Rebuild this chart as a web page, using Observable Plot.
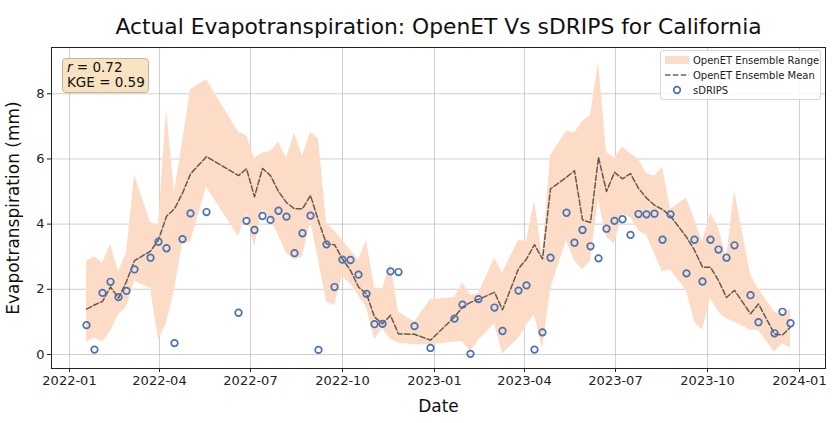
<!DOCTYPE html>
<html>
<head>
<meta charset="utf-8">
<script src="https://cdn.jsdelivr.net/npm/d3@7"></script>
<script src="https://cdn.jsdelivr.net/npm/@observablehq/plot@0.6"></script>
<style>
  html, body { margin: 0; padding: 0; background: #fff; }
  #wrap { position: relative; width: 833px; height: 423px; font-family: "DejaVu Sans", sans-serif; }
  #stats { position: absolute; left: 62px; top: 58px; width: 81px; height: 32px; background: #f7e3c2;
    border: 1px solid #c9b48f; border-radius: 4px; font-size: 13.5px; line-height: 15px; color: #111; padding: 1px 0 0 4px; box-sizing: content-box; }
  #legend { position: absolute; left: 660px; top: 50px; width: 159px; height: 48px; background: rgba(255,255,255,0.85);
    border: 1px solid #d6d6d6; border-radius: 3px; }
</style>
</head>
<body>
<div id="wrap"></div>
<script>
const dates = [
  "2022-01-18","2022-01-26","2022-02-03","2022-02-11","2022-02-19","2022-02-27","2022-03-07",
  "2022-03-23","2022-03-31","2022-04-08","2022-04-16","2022-04-24","2022-05-02","2022-05-18",
  "2022-06-19","2022-06-27","2022-07-05","2022-07-13","2022-07-21","2022-07-29","2022-08-06","2022-08-14","2022-08-22","2022-08-30","2022-09-07",
  "2022-09-15","2022-09-23","2022-10-01","2022-10-09","2022-10-17","2022-10-25","2022-11-02","2022-11-10","2022-11-18","2022-11-26",
  "2022-12-12","2022-12-28","2023-01-21","2023-01-29","2023-02-06","2023-02-14","2023-03-02","2023-03-10",
  "2023-03-26","2023-04-03","2023-04-11","2023-04-19","2023-04-27","2023-05-13","2023-05-21","2023-05-29","2023-06-06",
  "2023-06-14","2023-06-22","2023-06-30","2023-07-08","2023-07-16","2023-07-24","2023-08-01","2023-08-09","2023-08-17","2023-08-25",
  "2023-09-10","2023-09-18","2023-09-26","2023-10-04","2023-10-12","2023-10-20","2023-10-28","2023-11-13","2023-11-21","2023-12-07","2023-12-15","2023-12-23"
];
const sdrips = [
  0.90,0.15,1.89,2.23,1.76,1.95,2.61,
  2.97,3.46,3.26,0.35,3.54,4.33,4.37,
  1.28,4.10,3.82,4.25,4.13,4.41,4.23,3.11,3.72,4.26,0.14,
  3.38,2.07,2.91,2.90,2.45,1.86,0.93,0.94,2.55,2.53,
  0.87,0.20,1.10,1.53,0.02,1.70,1.44,0.72,
  1.96,2.12,0.15,0.68,2.97,4.35,3.43,3.82,3.32,
  2.95,3.86,4.10,4.15,3.67,4.31,4.30,4.32,3.52,4.30,
  2.49,3.52,2.24,3.52,3.22,2.97,3.35,1.82,0.99,0.65,1.31,0.96
];
const openetMean = [
  1.39,1.52,1.63,2.07,1.73,2.24,2.88,
  3.17,3.52,4.24,4.47,4.95,5.54,6.07,
  5.49,5.70,4.84,5.71,5.49,5.00,4.66,4.47,4.47,4.88,4.10,
  3.39,3.37,2.93,2.58,2.07,1.86,1.15,0.94,1.20,0.63,
  0.62,0.44,1.15,1.45,1.60,1.69,1.91,1.37,
  2.63,2.93,3.37,2.93,5.08,5.44,5.64,4.13,4.05,
  6.05,5.00,5.59,5.39,5.55,5.10,4.80,4.58,4.45,4.25,
  3.60,3.20,2.68,2.68,2.27,1.75,1.97,1.25,1.55,0.63,0.60,0.84
];
const openetMin = [
  0.38,0.50,0.38,0.72,1.22,1.45,2.25,
  2.02,0.45,0.95,2.00,3.40,3.45,5.13,
  3.62,4.30,3.30,4.45,4.15,3.65,3.10,2.90,3.00,4.10,2.90,
  1.60,1.50,2.40,2.17,1.80,1.45,0.45,0.80,0.45,0.35,
  0.30,0.30,0.38,0.40,0.10,0.43,0.94,0.02,
  0.50,0.90,1.22,0.15,2.00,3.50,2.88,2.60,2.88,
  4.75,3.60,3.40,4.30,4.20,3.80,3.65,3.09,2.53,2.60,
  1.95,1.00,0.74,1.70,1.30,1.10,1.00,0.74,0.74,0.07,0.33,0.20
];
const openetMax = [
  2.85,3.00,2.80,3.37,2.55,3.10,5.50,
  4.05,3.95,7.52,4.98,6.50,8.12,8.43,
  6.82,6.72,6.02,6.18,6.23,6.51,6.02,6.79,6.08,6.82,6.62,
  4.03,3.78,3.50,3.19,2.90,3.50,2.05,2.00,2.80,1.30,
  1.00,1.68,1.75,2.20,1.82,1.86,2.95,2.50,
  3.50,3.47,4.72,3.00,6.10,6.85,6.80,7.15,7.33,
  8.97,6.20,6.03,6.36,6.16,6.00,5.55,5.47,5.75,4.45,
  4.80,4.15,3.45,4.34,3.88,2.93,5.03,2.45,2.00,1.30,1.20,1.40
];
const xTickLabels = ["2022-01","2022-04","2022-07","2022-10","2023-01","2023-04","2023-07","2023-10","2024-01"];
const yTicks = [0, 2, 4, 6, 8];
const titleText = "Actual Evapotranspiration: OpenET Vs sDRIPS for California";
const xLabel = "Date";
const yLabel = "Evapotranspiration (mm)";
const legendLabels = ["OpenET Ensemble Range", "OpenET Ensemble Mean", "sDRIPS"];
const statR = "0.72", statKGE = "0.59";

const parse = d3.utcParse("%Y-%m-%d");
const rows = dates.map((d, i) => ({date: parse(d), sd: sdrips[i], mean: openetMean[i], lo: openetMin[i], hi: openetMax[i]}));
const xTicks = xTickLabels.map(s => d3.utcParse("%Y-%m")(s));

const bandColor = "#fcdcc6";
const dotColor = "#4c72b0";

const chart = Plot.plot({
  width: 833, height: 423,
  marginLeft: 51, marginRight: 8, marginTop: 47, marginBottom: 55,
  x: {type: "utc", domain: [parse("2021-12-14"), parse("2024-01-27")]},
  y: {domain: [-0.43, 9.42]},
  style: {fontFamily: "DejaVu Sans, sans-serif", fontSize: "13px", color: "#222", background: "white"},
  marks: [
    Plot.gridX(xTicks, {stroke: "#b0b0b0", strokeOpacity: 0.6}),
    Plot.gridY(yTicks, {stroke: "#b0b0b0", strokeOpacity: 0.6}),
    Plot.areaY(rows, {x: "date", y1: "lo", y2: "hi", fill: bandColor, fillOpacity: 1}),
    Plot.lineY(rows, {x: "date", y: "mean", stroke: "black", strokeOpacity: 0.6, strokeWidth: 1.5, strokeDasharray: "5.5,2.4"}),
    Plot.dot(rows, {x: "date", y: "sd", r: 3.3, stroke: dotColor, strokeWidth: 1.7, fill: "none"}),
    Plot.frame({stroke: "#222", strokeWidth: 1}),
    Plot.axisX(xTicks, {tickFormat: d3.utcFormat("%Y-%m"), tickSize: 4, tickPadding: 3, label: null, fontSize: 13}),
    Plot.axisY(yTicks, {tickSize: 4, tickPadding: 3, label: null, fontSize: 13}),
    Plot.text([titleText], {frameAnchor: "top", dy: -29, fontSize: 21.8, fill: "#111"}),
    Plot.text([xLabel], {frameAnchor: "bottom", dy: 43, fontSize: 17, fill: "#111"}),
    Plot.text([yLabel], {frameAnchor: "left", textAnchor: "middle", dx: -38, rotate: -90, fontSize: 17, fill: "#111"})
  ]
});

const wrap = document.getElementById("wrap");
wrap.appendChild(chart);

const stats = document.createElement("div");
stats.id = "stats";
stats.innerHTML = `<span style="font-style:italic">r</span> = ${statR}<br>KGE = ${statKGE}`;
wrap.appendChild(stats);

const legend = document.createElement("div");
legend.id = "legend";
legend.innerHTML = `<svg width="159" height="48" style="position:absolute;left:0;top:0;font-family:'DejaVu Sans',sans-serif">
  <rect x="4" y="5" width="24" height="8" fill="${bandColor}"/>
  <line x1="4" x2="28" y1="24" y2="24" stroke="black" stroke-opacity="0.6" stroke-width="1.5" stroke-dasharray="5.5,2.4"/>
  <circle cx="16" cy="39" r="3.3" fill="none" stroke="${dotColor}" stroke-width="1.7"/>
  <text x="32" y="12.5" font-size="10" fill="#222">${legendLabels[0]}</text>
  <text x="32" y="27.5" font-size="10" fill="#222">${legendLabels[1]}</text>
  <text x="32" y="42.5" font-size="10" fill="#222">${legendLabels[2]}</text>
</svg>`;
wrap.appendChild(legend);
</script>
</body>
</html>
